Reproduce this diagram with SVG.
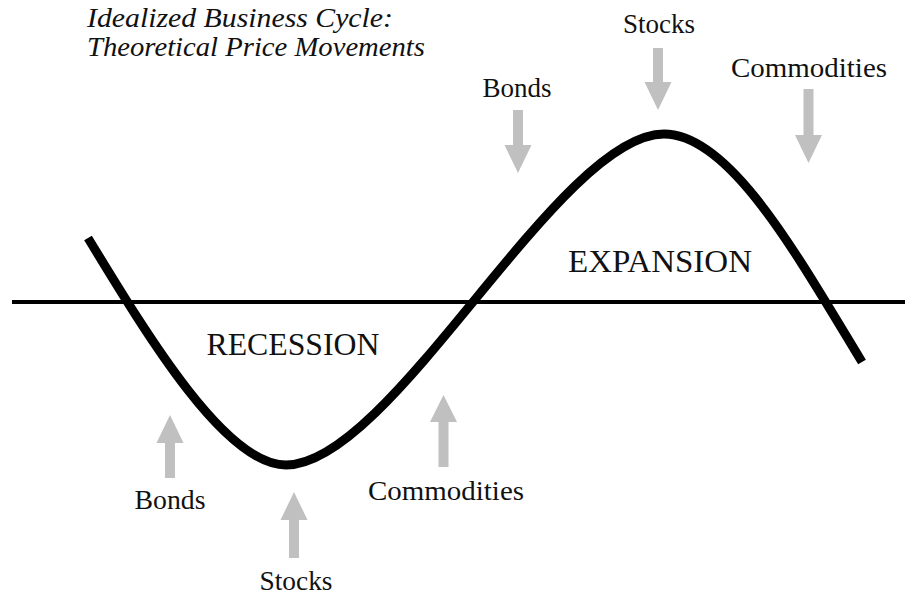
<svg xmlns="http://www.w3.org/2000/svg" width="905" height="595" viewBox="0 0 905 595">
<style>
.lbl{font-family:'Liberation Serif','DejaVu Serif',serif;font-size:27px;fill:#111;text-anchor:middle}
.big{font-family:'Liberation Serif','DejaVu Serif',serif;font-size:32px;fill:#111;text-anchor:middle}
.ttl{font-family:'Liberation Serif','DejaVu Serif',serif;font-size:28px;font-style:italic;fill:#111}
.arr{fill:#c0c0c0;stroke:none}
.curve{fill:none;stroke:#000;stroke-width:9;stroke-linecap:butt}
.axis{fill:none;stroke:#000;stroke-width:4}
</style>
<rect width="905" height="595" fill="#fff"/>
<g id="title">
<text class="ttl" x="87" y="27" textLength="306" lengthAdjust="spacingAndGlyphs">Idealized Business Cycle:</text>
<text class="ttl" x="87" y="56" textLength="338" lengthAdjust="spacingAndGlyphs">Theoretical Price Movements</text>
</g>
<g id="chart">
<line class="axis" x1="12" y1="302" x2="905" y2="302"/>
<path class="curve" d="M88,238 C150,340 226,465 286,465 C392,465 558,134 664,134 C730,134 797,255 862,362"/>
</g>
<g id="recession"><text class="big" x="293" y="355" textLength="173" lengthAdjust="spacingAndGlyphs">RECESSION</text></g>
<g id="expansion"><text class="big" x="660" y="272" textLength="184" lengthAdjust="spacingAndGlyphs">EXPANSION</text></g>
<g id="bonds-top"><text class="lbl" x="517" y="97" textLength="69" lengthAdjust="spacingAndGlyphs">Bonds</text></g>
<g id="stocks-top"><text class="lbl" x="659" y="33" textLength="72" lengthAdjust="spacingAndGlyphs">Stocks</text></g>
<g id="commodities-top"><text class="lbl" x="809" y="77" textLength="156" lengthAdjust="spacingAndGlyphs">Commodities</text></g>
<g id="bonds-bottom"><text class="lbl" x="170" y="509" textLength="71" lengthAdjust="spacingAndGlyphs">Bonds</text></g>
<g id="stocks-bottom"><text class="lbl" x="296" y="590" textLength="73" lengthAdjust="spacingAndGlyphs">Stocks</text></g>
<g id="commodities-bottom"><text class="lbl" x="446" y="500" textLength="156" lengthAdjust="spacingAndGlyphs">Commodities</text></g>
<g id="connectors">
<polygon class="arr" points="513,110 523,110 523,145 531.5,145 518,173 504.5,145 513,145"/>
<polygon class="arr" points="653,48 663,48 663,82 671.5,82 658,110 644.5,82 653,82"/>
<polygon class="arr" points="803.5,89 813.5,89 813.5,135 822,135 808.5,163 795,135 803.5,135"/>
<polygon class="arr" points="165,478 175,478 175,443 183.5,443 170,415 156.5,443 165,443"/>
<polygon class="arr" points="289,558 299,558 299,520 307.5,520 294,492 280.5,520 289,520"/>
<polygon class="arr" points="438.5,467 448.5,467 448.5,422 457,422 443.5,395 430,422 438.5,422"/>
</g>
</svg>
